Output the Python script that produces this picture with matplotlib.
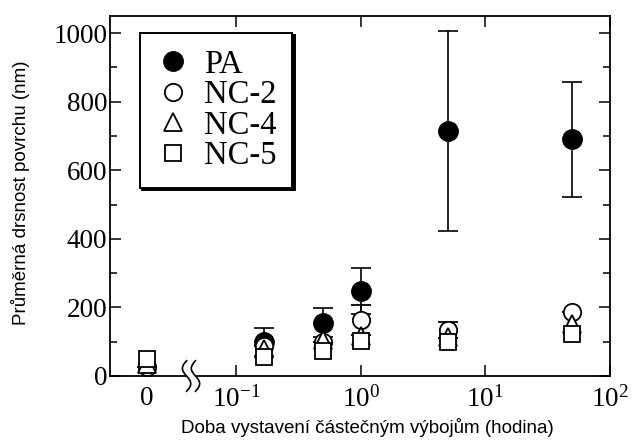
import numpy as np
import matplotlib.pyplot as plt
from matplotlib.lines import Line2D
from matplotlib.transforms import Affine2D, ScaledTranslation
from matplotlib.ticker import MultipleLocator

plt.rcParams['font.family'] = 'Liberation Serif'
plt.rcParams['mathtext.fontset'] = 'custom'
plt.rcParams['mathtext.rm'] = 'Liberation Serif'
plt.rcParams['mathtext.it'] = 'Liberation Serif:italic'

# exposure times in hours; 0 h is drawn left of the axis break
times = [0, 0.167, 0.5, 1.0, 5.0, 50.0]
t_zero = 10 ** -1.715      # where the 0 h column sits on the log axis
t_break = 10 ** -1.36      # axis break marker

pa = [np.nan, 99, 156, 248, 715, 690]
pa_err = [0, 40, 42, 67, 292, 168]
nc2 = [27, 88, 100, 163, 134, 188]
nc2_err = [0, 0, 0, 44, 23, 0]
nc4 = [35, 78, 105, 118, 115, 152]
nc5 = [50, 55, 72, 102, 99, 122]

series = [
    ('PA', pa, pa_err, dict(marker='o', ms=14, mfc='black', mec='black')),
    ('NC-2', nc2, nc2_err, dict(marker='o', ms=12.5, mfc='white', mec='black', mew=1.3)),
    ('NC-4', nc4, None, dict(marker='^', ms=12.5, mfc='white', mec='black', mew=1.3)),
    ('NC-5', nc5, None, dict(marker='s', ms=11.5, mfc='white', mec='black', mew=1.3)),
]

x = [t_zero if t == 0 else t for t in times]

fig = plt.figure(figsize=(6.38, 4.41), dpi=100)
ax = fig.add_axes([0.1724, 0.1474, 0.7836, 0.8163])

handles = []
for name, vals, err, style in series:
    ax.errorbar(x, vals, yerr=err, ls='none', color='black', elinewidth=1.2,
                capsize=7, capthick=1.2, **style)
    handles.append(Line2D([], [], ls='none', label=name, **style))

ax.set_xscale('log')
ax.set_xlim(10 ** -2.01, 100)
ax.set_ylim(0, 1050)

xticks = [t_zero, 0.1, 1, 10, 100]
xlabels = ['0', '$10^{-1}$', '$10^{0}$', '$10^{1}$', '$10^{2}$']
ax.set_xticks(xticks)
ax.set_xticklabels(xlabels)
ax.xaxis.set_minor_locator(plt.NullLocator())
ax.yaxis.set_major_locator(MultipleLocator(200))
ax.yaxis.set_minor_locator(MultipleLocator(100))

ax.tick_params(axis='both', which='major', direction='in', length=8, width=1.1,
               labelsize=19.5, top=True, right=True, pad=6)
ax.tick_params(axis='y', which='minor', direction='in', length=5, width=1.1, right=True)
ax.tick_params(axis='y', which='major', pad=2)
ax.tick_params(axis='x', which='major', pad=7)
first = ax.xaxis.get_major_ticks()[0]
first.tick1line.set_visible(False)
first.tick2line.set_visible(False)

for sp in ax.spines.values():
    sp.set_linewidth(1.3)

# broken-axis mark: two wavy strokes with the spine blanked between them
pt = Affine2D().scale(1 / 72.) + fig.dpi_scale_trans + \
    ScaledTranslation(t_break, 0, ax.get_xaxis_transform())
s = np.linspace(-1, 1, 60)
yy = 11 * s
wave = -3.0 * np.sin(np.pi * s)
gap = 3.2
ax.fill_betweenx(yy, wave - gap, wave + gap, color='white', transform=pt,
                 clip_on=False, zorder=5)
for dx in (-gap, gap):
    ax.plot(wave + dx, yy, color='black', lw=1.2, transform=pt, clip_on=False, zorder=6)

leg = ax.legend(handles=handles, loc='upper left', bbox_to_anchor=(0.06, 0.953),
                borderaxespad=0, fontsize=23.5, frameon=True, fancybox=False,
                handlelength=1.0, handletextpad=0.45, borderpad=0.5, labelspacing=0.0,
                shadow={'ox': 1.8, 'oy': -1.8, 'color': 'black', 'alpha': 1})
leg.get_frame().set_edgecolor('black')
leg.get_frame().set_linewidth(1.4)

ax.set_xlabel('Doba vystavení částečným výbojům (hodina)', family='Liberation Sans',
              fontsize=13.5)
ax.xaxis.set_label_coords(0.515, -0.118)
ax.set_ylabel('Průměrná drsnost povrchu (nm)', family='Liberation Sans',
              fontsize=13.5)
ax.yaxis.set_label_coords(-0.16, 0.51)

fig.savefig('out.png', dpi=100)
